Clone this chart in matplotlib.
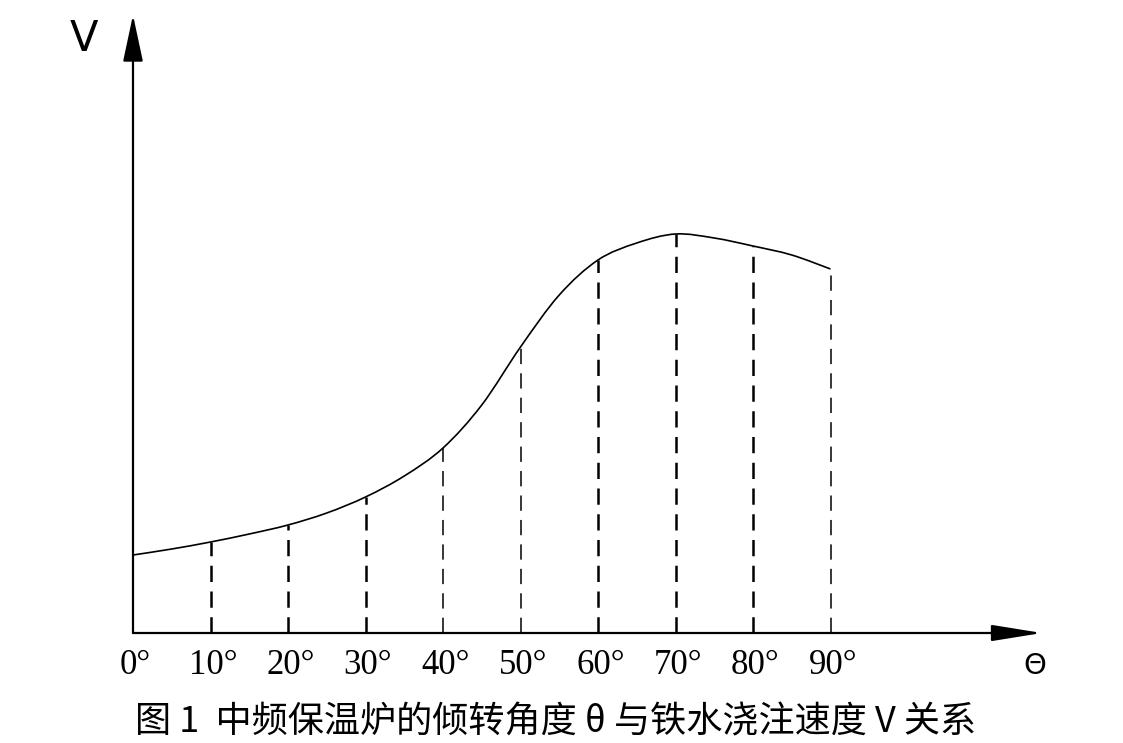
import matplotlib
matplotlib.use("Agg")
import matplotlib.pyplot as plt
from matplotlib.path import Path
from matplotlib.patches import PathPatch

# --- Data (V in arbitrary units)
angles = [0, 5, 10, 15, 20, 25, 30, 35, 40, 45, 50, 55, 60, 65, 70, 75, 80, 85, 90]
speeds = [78, 84, 91, 99, 108, 120, 136, 157, 185, 228, 286, 338, 373, 390, 399, 395, 387, 378, 364]

tick_angles = [0, 10, 20, 30, 40, 50, 60, 70, 80, 90]
tick_labels = ["0°", "10°", "20°", "30°", "40°", "50°", "60°", "70°", "80°", "90°"]
thick_drops = [10, 20, 30, 60, 70, 80]
thin_drops = [40, 50, 90]

caption = "图 1  中频保温炉的倾转角度 θ 与铁水浇注速度 V 关系"


def smooth_path(xs, ys):
	# Catmull-Rom through the read points, drawn as cubic Bezier segments
	verts = [(xs[0], ys[0])]
	codes = [Path.MOVETO]
	n = len(xs)
	for i in range(n - 1):
		x0, y0 = (xs[i - 1], ys[i - 1]) if i > 0 else (xs[i], ys[i])
		x1, y1 = xs[i], ys[i]
		x2, y2 = xs[i + 1], ys[i + 1]
		x3, y3 = (xs[i + 2], ys[i + 2]) if i + 2 < n else (x2, y2)
		verts += [(x1 + (x2 - x0) / 6, y1 + (y2 - y0) / 6),
		          (x2 - (x3 - x1) / 6, y2 - (y3 - y1) / 6),
		          (x2, y2)]
		codes += [Path.CURVE4] * 3
	return Path(verts, codes)


# --- Figure, axes fill the whole canvas (1 data unit of V = 1 px)
fig = plt.figure(figsize=(11.23, 7.43), dpi=100)
ax = fig.add_axes([0, 0, 1, 1])
ax.set_xlim(-133 / 7.75, (1123 - 133) / 7.75)
ax.set_ylim(-110, 633)
ax.axis("off")

# -- Axes with arrows
x_end = (1042 - 133) / 7.75
y_end = 633 - 15
ax.annotate("", xy=(x_end, 0), xytext=(0, 0),
            arrowprops=dict(arrowstyle="-|>,head_length=3.1,head_width=0.5",
                            lw=1.6, color="black", shrinkA=0, shrinkB=0))
ax.annotate("", xy=(0, y_end), xytext=(0, 0),
            arrowprops=dict(arrowstyle="-|>,head_length=2.9,head_width=0.62",
                            lw=1.6, color="black", shrinkA=0, shrinkB=0))

# -- Curve
ax.add_patch(PathPatch(smooth_path(angles, speeds), facecolor="none",
                       edgecolor="black", lw=1.2))

# -- Dashed drop lines
lookup = dict(zip(angles, speeds))
ax.vlines(thick_drops, 0, [lookup[a] for a in thick_drops],
          colors="black", lw=1.8, linestyles=(0, (6.5, 3.8)))
ax.vlines(thin_drops, 0, [lookup[a] for a in thin_drops],
          colors="black", lw=1.1, linestyles=(0, (10, 6)))

# -- Tick labels
for a, lab in zip(tick_angles, tick_labels):
	ax.text(a + 0.3, -33, lab, ha="center", va="center",
	        fontsize=25, family=["Liberation Serif"])

# -- Axis names
ax.text(-6.3, 633 - 39, "V", ha="center", va="center",
        fontsize=30, family=["DejaVu Sans"])
ax.text((1035 - 133) / 7.75, -33, "Θ", ha="center", va="center",
        fontsize=21, family=["DejaVu Sans"])

# -- Caption
ax.text((556 - 133) / 7.75, 633 - 722, caption, ha="center", va="center",
        fontsize=26, family=["Noto Sans CJK SC", "DejaVu Sans"])

fig.savefig("out.png", dpi=100, facecolor="white")
